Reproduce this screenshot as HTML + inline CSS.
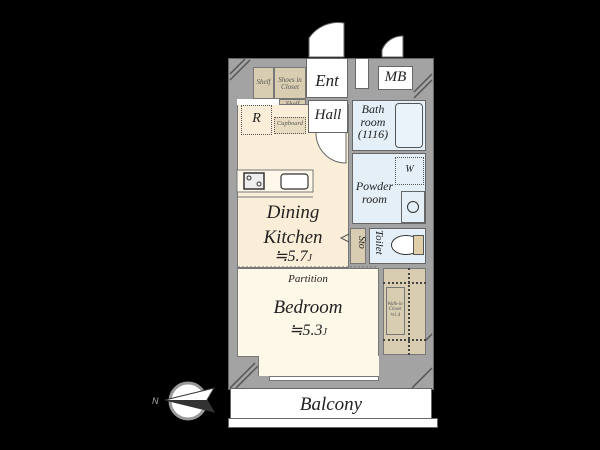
<!DOCTYPE html>
<html><head><meta charset="utf-8"><style>
body{margin:0;background:#000;width:600px;height:450px;position:relative;overflow:hidden;font-family:"Liberation Serif",serif;font-style:italic;color:#222}
.a{position:absolute;box-sizing:border-box}
.t{position:absolute;text-align:center;line-height:1.05}
</style></head><body>
<!-- outer wall -->
<div class="a" style="left:228px;top:58px;width:206px;height:332px;background:#a3a3a3;border:1px solid #666"></div>
<!-- top white doors area -->
<div class="a" style="left:306px;top:58px;width:42px;height:40px;background:#fff;border:1px solid #666"></div>
<div class="a" style="left:355px;top:58px;width:14px;height:31px;background:#fff;border:1px solid #666"></div>
<div class="a" style="left:378px;top:66px;width:35px;height:24px;background:#fff;border:1px solid #666"></div>
<div class="t" style="left:378px;top:70px;width:35px;font-size:15px">MB</div>
<div class="t" style="left:306px;top:72px;width:42px;font-size:17px">Ent</div>
<!-- doors -->
<svg class="a" style="left:0;top:0" width="600" height="450">
<path d="M309 57 L309 38 A 35 35 0 0 1 344 23 L344 57 Z" fill="#fff" stroke="#666"/>
<path d="M382 57 L382 50 A 22 22 0 0 1 403 36 L403 57 Z" fill="#fff" stroke="#666"/>
<g stroke="#555" stroke-width="1.5">
<line x1="230" y1="80" x2="250" y2="60"/><line x1="230" y1="74" x2="245" y2="59"/>
<line x1="414" y1="98" x2="432" y2="80"/><line x1="414" y1="92" x2="432" y2="74"/>
<line x1="416" y1="350" x2="432" y2="334"/>
<line x1="230" y1="388" x2="255" y2="363"/><line x1="236" y1="388" x2="258" y2="366"/>
<line x1="412" y1="388" x2="432" y2="368"/>
</g>
</svg>
<!-- shelf / closet -->
<div class="a" style="left:253px;top:67px;width:21px;height:32px;background:#d8cdb0;border:1px solid #777"></div>
<div class="t" style="left:253px;top:79px;width:21px;font-size:7px;color:#555">Shelf</div>
<div class="a" style="left:274px;top:67px;width:32px;height:32px;background:#d8cdb0;border:1px solid #777"></div>
<div class="t" style="left:274px;top:77px;width:32px;font-size:7px;color:#555">Shoes in<br>Closet</div>
<div class="a" style="left:279px;top:99px;width:27px;height:13px;background:#d8cdb0;border:1px solid #777"></div>
<div class="t" style="left:279px;top:101px;width:27px;font-size:7px;color:#555">Shelf</div>
<!-- dining kitchen -->
<div class="a" style="left:237px;top:104px;width:112px;height:164px;background:#fbeed8;border:1px solid #777"></div>
<div class="a" style="left:237px;top:99px;width:42px;height:6px;background:#fff"></div>
<div class="a" style="left:241px;top:105px;width:31px;height:30px;border:1.5px dotted #555"></div>
<div class="t" style="left:241px;top:112px;width:31px;font-size:14px">R</div>
<div class="a" style="left:274px;top:117px;width:32px;height:17px;background:#e8dcc0;border:1.5px dotted #555"></div>
<div class="t" style="left:274px;top:121px;width:32px;font-size:6.5px;color:#555">Cupboard</div>
<div class="a" style="left:308px;top:100px;width:40px;height:33px;background:#fff;border:1px solid #666"></div>
<div class="t" style="left:308px;top:108px;width:40px;font-size:15px">Hall</div>
<svg class="a" style="left:0;top:0" width="600" height="450">
<path d="M316 133 A 30 30 0 0 0 346 163 L346 133" fill="#fff" stroke="#666"/>
<rect x="237" y="170" width="76" height="22" fill="#fff8ea" stroke="#777"/>
<rect x="244" y="173" width="20" height="16" fill="#eee" stroke="#333" stroke-width="1.5"/>
<circle cx="249" cy="178" r="2" fill="none" stroke="#333"/><circle cx="259" cy="184" r="2" fill="none" stroke="#333"/>
<rect x="281" y="174" width="27" height="15" rx="3" fill="#fff" stroke="#333" stroke-width="1.2"/>
<line x1="237" y1="197" x2="313" y2="197" stroke="#777"/>
<line x1="238" y1="267" x2="378" y2="267" stroke="#777" stroke-dasharray="2 2"/>
<path d="M349 234 L341 238 L349 242" fill="none" stroke="#555"/>
</svg>
<div class="t" style="left:237px;top:201px;width:112px;font-size:19px;line-height:1.3">Dining<br>Kitchen</div>
<div class="t" style="left:237px;top:249px;width:112px;font-size:16px">≒5.7<span style="font-size:10px">J</span></div>
<!-- bath -->
<div class="a" style="left:352px;top:100px;width:74px;height:51px;background:#e4eff8;border:1px solid #666"></div>
<div class="t" style="left:352px;top:103px;width:42px;font-size:12px">Bath<br>room<br>(1116)</div>
<div class="a" style="left:395px;top:103px;width:28px;height:45px;background:#eaf3fa;border:1.5px solid #555;border-radius:4px"></div>
<!-- powder room -->
<div class="a" style="left:352px;top:153px;width:74px;height:71px;background:#e4eff8;border:1px solid #666"></div>
<div class="a" style="left:395px;top:157px;width:29px;height:28px;border:1.5px dotted #555"></div>
<div class="t" style="left:395px;top:165px;width:29px;font-size:10px">W</div>
<div class="a" style="left:401px;top:191px;width:24px;height:32px;border:1px solid #666"></div>
<div class="a" style="left:407px;top:201px;width:12px;height:12px;border:1.5px solid #333;border-radius:50%"></div>
<div class="t" style="left:352px;top:180px;width:45px;font-size:12px">Powder<br>room</div>
<!-- sto / toilet -->
<div class="a" style="left:350px;top:228px;width:16px;height:36px;background:#d8cdb0;border:1px solid #777"></div>
<div class="t" style="left:350px;top:236px;width:16px;font-size:10px;writing-mode:vertical-rl">Sto</div>
<div class="a" style="left:369px;top:228px;width:57px;height:36px;background:#e4eff8;border:1px solid #666"></div>
<div class="t" style="left:370px;top:230px;width:14px;font-size:11px;writing-mode:vertical-rl">Toilet</div>
<div class="a" style="left:391px;top:235px;width:30px;height:20px;background:#fff;border:1.5px solid #333;border-radius:50%"></div>
<div class="a" style="left:413px;top:235px;width:11px;height:20px;background:#e0cfa8;border:1px solid #555"></div>
<!-- bedroom -->
<div class="a" style="left:237px;top:268px;width:142px;height:89px;background:#fdf8e8;border:1px solid #777"></div>
<div class="a" style="left:258px;top:356px;width:121px;height:20px;background:#fdf8e8;border-left:1px solid #777"></div>
<div class="a" style="left:269px;top:376px;width:110px;height:5px;background:#fff;border:1px solid #777"></div>
<div class="t" style="left:238px;top:274px;width:140px;font-size:11px">Partition</div>
<div class="t" style="left:238px;top:298px;width:140px;font-size:19px">Bedroom</div>
<div class="t" style="left:238px;top:323px;width:140px;font-size:16px">≒5.3<span style="font-size:10px">J</span></div>
<!-- walk-in closet -->
<div class="a" style="left:383px;top:268px;width:43px;height:87px;background:#d8cdb0;border:1px solid #777"></div>
<div class="a" style="left:383px;top:282px;width:43px;height:0;border-top:2px dotted #444"></div>
<div class="a" style="left:383px;top:339px;width:43px;height:0;border-top:2px dotted #444"></div>
<div class="a" style="left:408px;top:268px;width:0;height:87px;border-left:2px dotted #444"></div>
<div class="a" style="left:386px;top:287px;width:19px;height:48px;border:1px solid #777"></div>
<div class="t" style="left:385px;top:302px;width:20px;font-size:5px;color:#555">Walk-in<br>Closet<br>≒1.4</div>
<!-- balcony -->
<div class="a" style="left:230px;top:388px;width:202px;height:32px;background:#fff;border:1px solid #666"></div>
<div class="a" style="left:228px;top:418px;width:210px;height:10px;background:#fff;border:1px solid #666"></div>
<div class="t" style="left:230px;top:395px;width:202px;font-size:19px">Balcony</div>
<!-- compass -->
<svg class="a" style="left:0;top:0" width="600" height="450">
<circle cx="188" cy="401" r="18" fill="#fff" stroke="#999" stroke-width="3"/>
<path d="M165 400 L214 388 L207 400 L214 412 Z" fill="#fff" stroke="#333"/>
<path d="M165 400 L207 400 L214 412 Z" fill="#333"/>
<text x="152" y="404" font-size="9" fill="#aaa" font-family="Liberation Sans">N</text>
</svg>
</body></html>
